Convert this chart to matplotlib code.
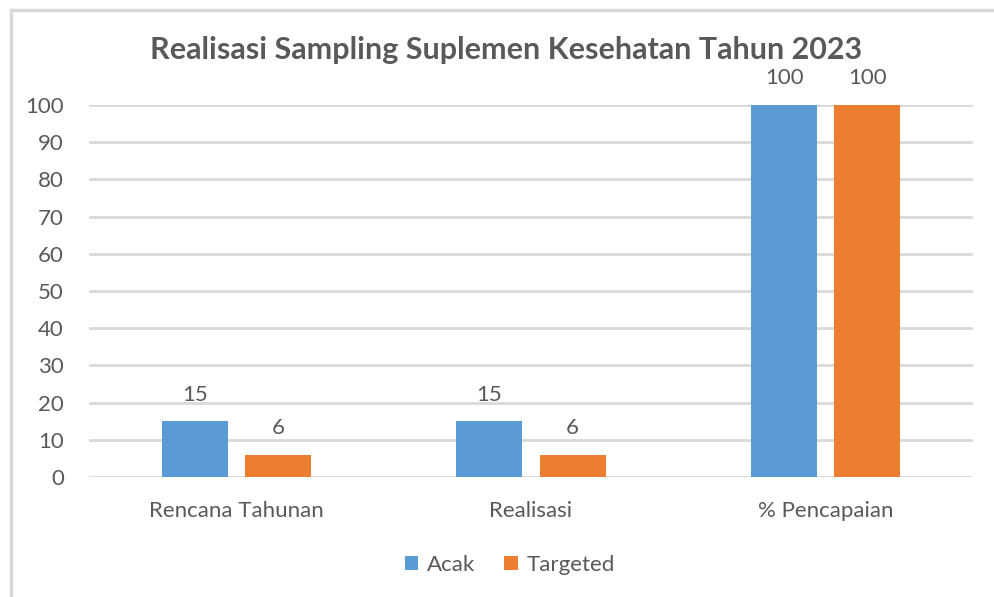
import numpy as np
import matplotlib.pyplot as plt
from matplotlib.lines import Line2D

categories = ['Rencana Tahunan', 'Realisasi', '% Pencapaian']
acak = [15, 15, 100]
targeted = [6, 6, 100]
yticks = [0, 10, 20, 30, 40, 50, 60, 70, 80, 90, 100]

plt.rcParams['font.family'] = ['Lato', 'DejaVu Sans']

BLUE = '#5B9BD5'
ORANGE = '#ED7D31'
GRAY = '#595959'
GRID = '#D9D9D9'

fig = plt.figure(figsize=(9.94, 5.97), dpi=100)
ax = fig.add_axes([0.0895, 0.201, 0.8895, 0.623])

x = np.arange(len(categories))
w = 0.224
off = 0.141
b1 = ax.bar(x - off, acak, w, color=BLUE, label='Acak', zorder=3)
b2 = ax.bar(x + off, targeted, w, color=ORANGE, label='Targeted', zorder=3)

for bars in (b1, b2):
    ax.bar_label(bars, padding=12, fontsize=16, color=GRAY)

ax.set_xlim(-0.5, len(categories) - 0.5)
ax.set_ylim(0, 100)
ax.set_yticks(yticks)
ax.set_xticks(x)
ax.set_xticklabels(categories)
ax.tick_params(axis='both', length=0, labelsize=16, labelcolor=GRAY)
ax.tick_params(axis='x', pad=17)
ax.tick_params(axis='y', pad=18)
ax.yaxis.grid(True, color=GRID, linewidth=2, zorder=0)
for s in ax.spines.values():
    s.set_visible(False)

# title is centred on the whole chart area, not the plot area
fig.text(0.509, 1 - 50 / 597, 'Realisasi Sampling Suplemen Kesehatan Tahun 2023',
         fontsize=22, fontweight='bold', color=GRAY, ha='center', va='center')

ax.legend(loc='upper center', bbox_to_anchor=(0.476, -0.155), ncol=2,
          frameon=False, fontsize=16, labelcolor=GRAY,
          handlelength=0.6, handleheight=0.6, handletextpad=0.4,
          columnspacing=1.3)

# chart area border (top and left edges)
fig.add_artist(Line2D([11 / 994, 1], [1 - 10 / 597, 1 - 10 / 597],
                      color=GRID, linewidth=2.5, transform=fig.transFigure))
fig.add_artist(Line2D([11 / 994, 11 / 994], [0, 1 - 10 / 597],
                      color=GRID, linewidth=2.5, transform=fig.transFigure))

fig.savefig('out.png', dpi=100)
